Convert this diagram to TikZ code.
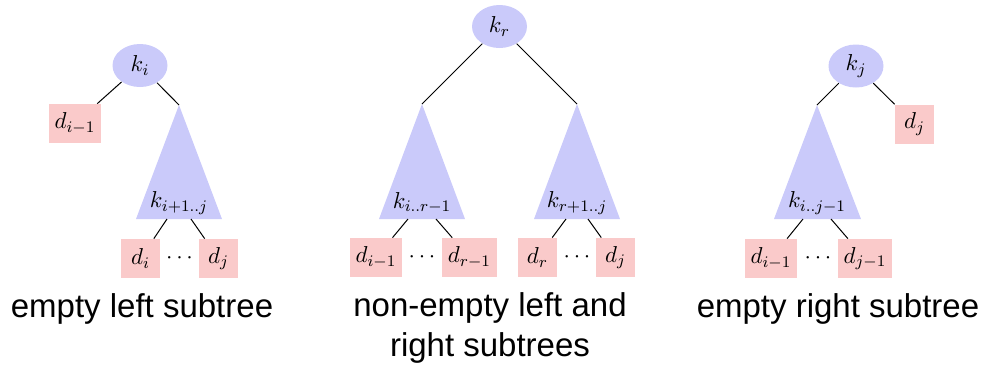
\RequirePackage{fix-cm}
\documentclass[tikz,border=0pt]{standalone}
\usepackage{fontspec}
\newfontfamily\capfont{Liberation Sans}
\usetikzlibrary{shapes.geometric}
\definecolor{keyfill}{RGB}{202,202,250}
\definecolor{leaffill}{RGB}{250,202,202}
\begin{document}
\begin{tikzpicture}[x=0.5pt,y=-0.5pt,
  mfont/.style={font=\fontsize{11.5}{14}\selectfont},
  keynode/.style={ellipse, fill=keyfill, minimum width=27.5pt, minimum height=21.5pt, inner sep=0pt, mfont},
  leaf/.style={rectangle, fill=leaffill, minimum width=19.5pt, minimum height=19.5pt, inner xsep=2.8pt, inner ysep=0pt, mfont},
  trifill/.style={fill=keyfill},
  trilabel/.style={inner sep=0pt, mfont},
  dotsnode/.style={inner sep=0pt, mfont},
  edge/.style={draw=black, line width=0.5pt},
  caption/.style={font=\capfont\fontsize{16.5}{20}\selectfont, inner sep=0pt, align=center}]
\useasboundingbox (0,0) rectangle (982,366);

% ---------- left tree: empty left subtree ----------
\node[keynode] (ki) at (140,65.5) {$k_i$};
\node[leaf] (Ldim1) at (75,123.5) {$d_{i-1}$};
\coordinate (Ta) at (179,105);
\fill[trifill] (Ta) -- (136,219) -- (222,219) -- cycle;
\node[trilabel] (Tal) at (179,203) {$k_{i+1..j}$};
\coordinate (TaL) at (167,219);
\coordinate (TaR) at (191,219);
\node[leaf] (Ldi) at (140.5,258.5) {$d_i$};
\node[leaf] (Ldj) at (218.5,258.5) {$d_j$};
\node[dotsnode] (Ldots) at (179.5,258) {$\cdots$};
\draw[edge] (ki) -- (Ldim1);
\draw[edge] (ki) -- (Ta);
\draw[edge] (TaL) -- (Ldi);
\draw[edge] (TaR) -- (Ldj);
\node[caption, anchor=base] (capL) at (142,317) {empty left subtree};

% ---------- middle tree ----------
\node[keynode] (kr) at (499.5,26.5) {$k_r$};
\coordinate (Tb) at (422,104);
\fill[trifill] (Tb) -- (379,219) -- (465,219) -- cycle;
\node[trilabel] (Tbl) at (422,203) {$k_{i..r-1}$};
\coordinate (TbL) at (408,219);
\coordinate (TbR) at (436,219);
\coordinate (Tc) at (577,104);
\fill[trifill] (Tc) -- (534,219) -- (620,219) -- cycle;
\node[trilabel] (Tcl) at (577,203) {$k_{r+1..j}$};
\coordinate (TcL) at (566,219);
\coordinate (TcR) at (588,219);
\node[leaf] (Mdim1) at (376,257.5) {$d_{i-1}$};
\node[leaf] (Mdrm1) at (469.5,257.5) {$d_{r-1}$};
\node[leaf] (Mdr) at (537.5,257.5) {$d_r$};
\node[leaf] (Mdj) at (615.5,257.5) {$d_j$};
\node[dotsnode] (Mdots1) at (422,257) {$\cdots$};
\node[dotsnode] (Mdots2) at (577,257) {$\cdots$};
\draw[edge] (kr) -- (Tb);
\draw[edge] (kr) -- (Tc);
\draw[edge] (TbL) -- (Mdim1);
\draw[edge] (TbR) -- (Mdrm1);
\draw[edge] (TcL) -- (Mdr);
\draw[edge] (TcR) -- (Mdj);
\node[caption, anchor=north] (capM) at (490,292) {non-empty left and\\right subtrees};

% ---------- right tree: empty right subtree ----------
\node[keynode] (kj) at (856,66) {$k_j$};
\node[leaf] (Rdj) at (914.5,124) {$d_j$};
\coordinate (Td) at (817,105);
\fill[trifill] (Td) -- (774,219) -- (861,219) -- cycle;
\node[trilabel] (Tdl) at (817,203) {$k_{i..j-1}$};
\coordinate (TdL) at (803,219);
\coordinate (TdR) at (831,219);
\node[leaf] (Rdim1) at (771,258.5) {$d_{i-1}$};
\node[leaf] (Rdjm1) at (865,258.5) {$d_{j-1}$};
\node[dotsnode] (Rdots) at (818,258) {$\cdots$};
\draw[edge] (kj) -- (Td);
\draw[edge] (kj) -- (Rdj);
\draw[edge] (TdL) -- (Rdim1);
\draw[edge] (TdR) -- (Rdjm1);
\node[caption, anchor=base] (capR) at (838,317) {empty right subtree};
\end{tikzpicture}
\end{document}
